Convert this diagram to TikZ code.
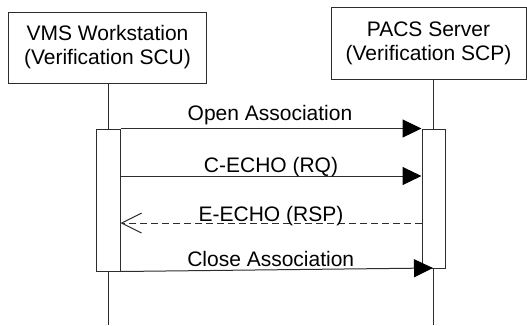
\documentclass[tikz,border=0pt]{standalone}
\usepackage{fontspec}
\setmainfont{Liberation Sans}
\usetikzlibrary{arrows.meta, positioning}
\definecolor{linegray}{RGB}{45,45,45}

\begin{document}
\begin{tikzpicture}[x=1pt, y=-1pt,
  lane/.style={draw=linegray, line width=1pt, fill=white, align=center,
    font=\fontsize{21}{24}\selectfont, inner sep=0pt},
  act/.style={draw=linegray, line width=1pt, fill=white, inner sep=0pt},
  msg/.style={draw=linegray, line width=1pt,
    -{Triangle[length=19pt,width=18pt,color=black]}},
  reply/.style={draw=linegray, line width=1pt, dash pattern=on 7pt off 4pt,
    -{Straight Barb[length=20pt,width=20pt,line width=1pt]}},
  lbl/.style={font=\fontsize{21}{24}\selectfont, anchor=base, inner sep=0pt}]
\useasboundingbox (0,0) rectangle (527,325);

% Lanes
\node[lane, minimum width=198pt, minimum height=71pt] (scu) at (107.5,47.5)
  {VMS Workstation\\(Verification SCU)};
\node[lane, minimum width=195pt, minimum height=72pt] (scp) at (428.5,43)
  {PACS Server\\(Verification SCP)};

% Lifelines
\coordinate (scuend) at (108,325);
\coordinate (scpend) at (433,325);
\draw[linegray, line width=1pt] (scu.south -| scuend) -- (scuend);
\draw[linegray, line width=1pt] (scp.south -| scpend) -- (scpend);

% Activations
\node[act, minimum width=24pt, minimum height=142pt] (actl) at (108,200) {};
\node[act, minimum width=23pt, minimum height=139pt] (actr) at (433.5,198.5) {};

% Messages
\coordinate (row2) at (0,176);
\coordinate (row3) at (0,223);
\coordinate (closeend) at (433,268);
\draw[msg] (actl.north east) -- (actr.north west)
  node[midway, lbl, yshift=8pt, xshift=-1pt] (open) {Open Association};
\draw[msg] (actl.east |- row2) -- (actr.west |- row2)
  node[midway, lbl, yshift=4pt] (echorq) {C-ECHO (RQ)};
\draw[reply] (actr.west |- row3) -- (actl.east |- row3)
  node[midway, lbl, yshift=1.5pt] (echorsp) {E-ECHO (RSP)};
\draw[msg] (actl.south east) -- (closeend)
  node[midway, lbl, yshift=3pt, xshift=-6pt] (close) {Close Association};

\end{tikzpicture}
\end{document}
